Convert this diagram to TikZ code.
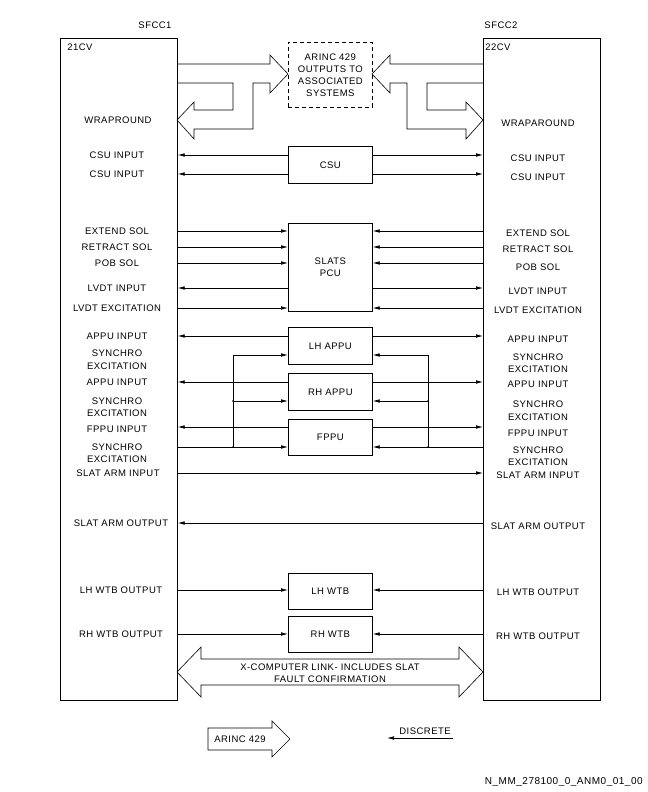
\documentclass[tikz,border=0pt]{standalone}
\usepackage{fontspec}
\setmainfont[LetterSpace=5]{Liberation Sans}
\usetikzlibrary{arrows.meta}

\tikzset{
  lbl/.style={font=\fontsize{9.5bp}{12.5bp}\selectfont, inner sep=0pt, align=center},
  unit/.style={draw, minimum width=84bp, inner sep=0pt, align=center, anchor=north west,
    font=\fontsize{9.5bp}{12bp}\selectfont},
  sfcc/.style={draw, minimum width=117bp, minimum height=662bp, anchor=north west},
  bigarrow/.style={draw, line width=0.6bp, line join=miter},
}

\begin{document}
\begin{tikzpicture}[x=1bp,y=-1bp,line width=0.7bp,>={Latex[length=7bp,width=3.6bp]}]
  \useasboundingbox (0,0) rectangle (648,792);

  % computers
  \node[sfcc] (sfcc1) at (60,38) {};
  \node[sfcc] (sfcc2) at (483,38) {};
  \node[lbl] (name1) at (155,25) {SFCC1};
  \node[lbl] (name2) at (501,25) {SFCC2};
  \node[lbl, anchor=west] (cv1) at (67,47) {21CV};
  \node[lbl, anchor=west] (cv2) at (485,47) {22CV};

  % arinc 429 outputs
  \node[unit, dashed, dash pattern=on 4bp off 3bp, minimum height=65bp] (arinc) at (288,42)
    {ARINC 429\\OUTPUTS TO\\ASSOCIATED\\SYSTEMS};
  \draw[bigarrow] (177,64) -- (270,64) -- (270,55) -- (288,74) -- (270,93) -- (270,83)
    -- (253,83) -- (253,129) -- (194,129) -- (194,139) -- (177,120) -- (194,102)
    -- (194,110) -- (233,110) -- (233,83) -- (177,83);
  \draw[bigarrow] (483,64) -- (390,64) -- (390,55) -- (372,74) -- (390,93) -- (390,83)
    -- (407,83) -- (407,129) -- (466,129) -- (466,139) -- (483,120) -- (466,102)
    -- (466,110) -- (427,110) -- (427,83) -- (483,83);
  \node[lbl] (wrapL) at (118,120) {WRAPROUND};
  \node[lbl] (wrapR) at (538,123) {WRAPAROUND};

  % units
  \node[unit, minimum height=37bp] (csu) at (288,146) {CSU};
  \node[unit, minimum height=88bp] (pcu) at (288,223) {SLATS\\PCU};
  \node[unit, minimum height=37bp] (lhappu) at (288,327) {LH APPU};
  \node[unit, minimum height=37bp] (rhappu) at (288,373) {RH APPU};
  \node[unit, minimum height=36bp] (fppu) at (288,419) {FPPU};
  \node[unit, minimum height=36bp] (lhwtb) at (288,573) {LH WTB};
  \node[unit, minimum height=36bp] (rhwtb) at (288,616) {RH WTB};

  % left labels
  \node[lbl] (csuL1) at (117,155) {CSU INPUT};
  \node[lbl] (csuL2) at (117,174) {CSU INPUT};
  \node[lbl] (extL) at (117,231) {EXTEND SOL};
  \node[lbl] (retL) at (117,247) {RETRACT SOL};
  \node[lbl] (pobL) at (117,263) {POB SOL};
  \node[lbl] (lvdtL) at (117,288) {LVDT INPUT};
  \node[lbl] (excL) at (117,308) {LVDT EXCITATION};
  \node[lbl] (appuL1) at (117,336) {APPU INPUT};
  \node[lbl] (synL1) at (117,359.5) {SYNCHRO\\EXCITATION};
  \node[lbl] (appuL2) at (117,382) {APPU INPUT};
  \node[lbl] (synL2) at (117,407) {SYNCHRO\\EXCITATION};
  \node[lbl] (fppuL) at (117,429) {FPPU INPUT};
  \node[lbl] (synL3) at (117,453) {SYNCHRO\\EXCITATION};
  \node[lbl] (armInL) at (118,473) {SLAT ARM INPUT};
  \node[lbl] (armOutL) at (121,523) {SLAT ARM OUTPUT};
  \node[lbl] (lhwtbL) at (121,590) {LH WTB OUTPUT};
  \node[lbl] (rhwtbL) at (121,634) {RH WTB OUTPUT};

  % right labels
  \node[lbl] (csuR1) at (538,158) {CSU INPUT};
  \node[lbl] (csuR2) at (538,177) {CSU INPUT};
  \node[lbl] (extR) at (538,233) {EXTEND SOL};
  \node[lbl] (retR) at (538,249.5) {RETRACT SOL};
  \node[lbl] (pobR) at (538,267) {POB SOL};
  \node[lbl] (lvdtR) at (538,291.5) {LVDT INPUT};
  \node[lbl] (excR) at (538,310.5) {LVDT EXCITATION};
  \node[lbl] (appuR1) at (538,339) {APPU INPUT};
  \node[lbl] (synR1) at (538,363) {SYNCHRO\\EXCITATION};
  \node[lbl] (appuR2) at (538,384) {APPU INPUT};
  \node[lbl] (synR2) at (538,410.5) {SYNCHRO\\EXCITATION};
  \node[lbl] (fppuR) at (538,433) {FPPU INPUT};
  \node[lbl] (synR3) at (538,456) {SYNCHRO\\EXCITATION};
  \node[lbl] (armInR) at (538,475) {SLAT ARM INPUT};
  \node[lbl] (armOutR) at (538,526) {SLAT ARM OUTPUT};
  \node[lbl] (lhwtbR) at (538,592) {LH WTB OUTPUT};
  \node[lbl] (rhwtbR) at (538,636) {RH WTB OUTPUT};

  % csu
  \draw[->] (csu.west |- csuL1) -- (sfcc1.east |- csuL1);
  \draw[->] (csu.west |- csuL2) -- (sfcc1.east |- csuL2);
  \draw[->] (csu.east |- csuL1) -- (sfcc2.west |- csuL1);
  \draw[->] (csu.east |- csuL2) -- (sfcc2.west |- csuL2);
  % pcu
  \draw[->] (sfcc1.east |- extL) -- (pcu.west |- extL);
  \draw[->] (sfcc1.east |- retL) -- (pcu.west |- retL);
  \draw[->] (sfcc1.east |- pobL) -- (pcu.west |- pobL);
  \draw[->] (pcu.west |- lvdtL) -- (sfcc1.east |- lvdtL);
  \draw[->] (sfcc1.east |- excL) -- (pcu.west |- excL);
  \draw[->] (sfcc2.west |- extL) -- (pcu.east |- extL);
  \draw[->] (sfcc2.west |- retL) -- (pcu.east |- retL);
  \draw[->] (sfcc2.west |- pobL) -- (pcu.east |- pobL);
  \draw[->] (pcu.east |- lvdtL) -- (sfcc2.west |- lvdtL);
  \draw[->] (sfcc2.west |- excL) -- (pcu.east |- excL);
  % appu / fppu
  \draw[->] (lhappu.west |- appuL1) -- (sfcc1.east |- appuL1);
  \draw[->] (lhappu.east |- appuL1) -- (sfcc2.west |- appuL1);
  \draw[->] (rhappu.west |- appuL2) -- (sfcc1.east |- appuL2);
  \draw[->] (rhappu.east |- appuL2) -- (sfcc2.west |- appuL2);
  \coordinate (fin) at (0,427);
  \draw[->] (fppu.west |- fin) -- (sfcc1.east |- fin);
  \draw[->] (fppu.east |- fin) -- (sfcc2.west |- fin);
  % synchro excitation buses
  \coordinate (busL1) at (233,355);
  \coordinate (busL2) at (233,401);
  \coordinate (busL3) at (233,447);
  \coordinate (busR1) at (428,355);
  \coordinate (busR2) at (428,401);
  \coordinate (busR3) at (428,447);
  \draw (busL1) -- (busL3);
  \draw (busR1) -- (busR3);
  \draw[->] (busL1) -- (lhappu.west |- busL1);
  \draw[->] (busL2) -- (rhappu.west |- busL2);
  \draw[->] (sfcc1.east |- busL3) -- (fppu.west |- busL3);
  \draw[->] (busR1) -- (lhappu.east |- busR1);
  \draw[->] (busR2) -- (rhappu.east |- busR2);
  \draw[->] (sfcc2.west |- busR3) -- (fppu.east |- busR3);
  \fill (busL2) circle (0.9bp) (busL3) circle (0.9bp);
  \fill (busR2) circle (0.9bp) (busR3) circle (0.9bp);
  % slat arm
  \draw[->] (sfcc1.east |- armInL) -- (sfcc2.west |- armInL);
  \draw[->] (sfcc2.west |- armOutL) -- (sfcc1.east |- armOutL);
  % wtb
  \draw[->] (sfcc1.east |- lhwtbL) -- (lhwtb.west |- lhwtbL);
  \draw[->] (sfcc2.west |- lhwtbL) -- (lhwtb.east |- lhwtbL);
  \draw[->] (sfcc1.east |- rhwtbL) -- (rhwtb.west |- rhwtbL);
  \draw[->] (sfcc2.west |- rhwtbL) -- (rhwtb.east |- rhwtbL);

  % cross computer link
  \draw[bigarrow] (177,672) -- (201,647) -- (201,659) -- (459,659) -- (459,647) -- (483,672)
    -- (459,697) -- (459,685) -- (201,685) -- (201,697) -- cycle;
  \node[lbl] (xlink) at (330,673) {X-COMPUTER LINK- INCLUDES SLAT\\FAULT CONFIRMATION};

  % legend
  \draw[bigarrow] (208,728) -- (272,728) -- (272,721) -- (290,739) -- (272,757) -- (272,750)
    -- (208,750) -- cycle;
  \node[lbl] (arincKey) at (240,739) {ARINC 429};
  \coordinate (discA) at (453,738);
  \coordinate (discB) at (387,738);
  \draw[->] (discA) -- (discB);
  \node[lbl, anchor=south] (discKey) at (425,735) {DISCRETE};

  \node[lbl, anchor=east, font=\fontsize{10bp}{12bp}\selectfont] (ref) at (643,782)
    {N\_MM\_278100\_0\_ANM0\_01\_00};
\end{tikzpicture}
\end{document}
